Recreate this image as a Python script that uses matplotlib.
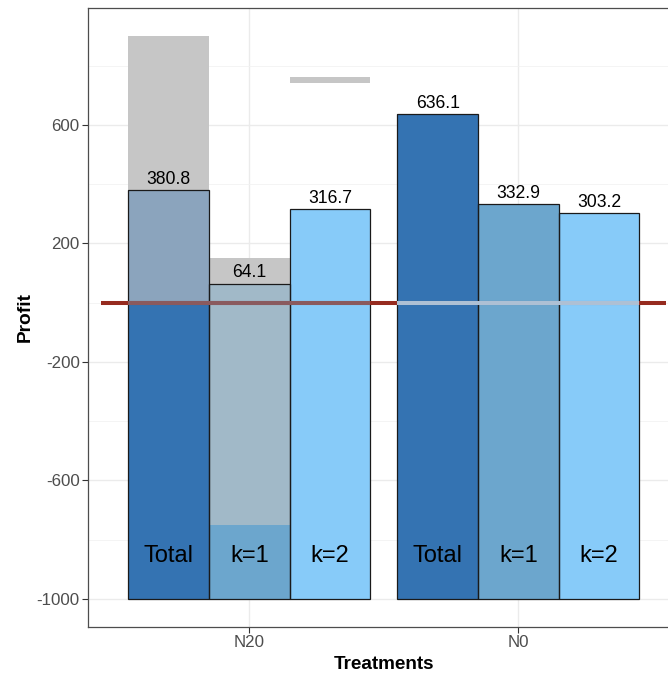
"""Profit by treatment: dodged bars with grey overlays and a zero line."""

import matplotlib

matplotlib.use("Agg")
import matplotlib.pyplot as plt
import numpy as np
from matplotlib.patches import Rectangle

plt.rcParams["font.family"] = ["Liberation Sans", "DejaVu Sans"]

# --- data ------------------------------------------------------------------
treatments = ["N20", "N0"]
components = ["Total", "k=1", "k=2"]
profit_n20 = [380.8, 64.1, 316.7]
profit_n0 = [636.1, 332.9, 303.2]
bar_floor = -1000

# grey overlay boxes: treatment index, component index, low, high
overlay_treat = [0, 0, 0]
overlay_comp = [0, 1, 2]
overlay_low = [0, -750, 741]
overlay_high = [900, 150, 761]

y_ticks = [-1000, -600, -200, 200, 600]
y_minor = [-800, -400, 0, 400, 800]
label_y = -855
zero_span = (0.45, 2.55)

# --- styling ---------------------------------------------------------------
fills = ["#3473B2", "#6CA6CD", "#87CBF9"]
grey = "#C6C6C6"
zero_red = "#962B1F"
bar_width = 0.3

fig = plt.figure(figsize=(6.68, 6.75), dpi=100)
ax = fig.add_axes([88 / 668, 48 / 675, 591.7 / 668, 619 / 675])

values = np.array([profit_n20, profit_n0])
centers = np.arange(1, len(treatments) + 1)
offsets = (np.arange(len(components)) - 1) * bar_width

for t, center in enumerate(centers):
    for c, off in enumerate(offsets):
        x = center + off
        v = values[t, c]
        ax.bar(x, v - bar_floor, bottom=bar_floor, width=bar_width,
               color=fills[c], edgecolor="none", zorder=2)
        ax.bar(x, v - bar_floor, bottom=bar_floor, width=bar_width,
               facecolor="none", edgecolor="#1A1A1A", linewidth=0.9, zorder=4)
        ax.text(x, v + 8, f"{v:.1f}", ha="center", va="bottom",
                fontsize=12.7, color="black", zorder=6)
        ax.text(x, label_y, components[c], ha="center", va="center",
                fontsize=17, color="black", zorder=6)

for t, c, lo, hi in zip(overlay_treat, overlay_comp, overlay_low, overlay_high):
    x0 = centers[t] + offsets[c] - bar_width / 2
    ax.add_patch(Rectangle((x0, lo), bar_width, hi - lo, facecolor=grey,
                           edgecolor="none", zorder=1.5))
    ax.add_patch(Rectangle((x0, lo), bar_width, hi - lo, facecolor=grey,
                           edgecolor="none", alpha=0.6, zorder=3.5))

# zero line, muted where it crosses each group of bars
ax.plot(zero_span, [0, 0], color=zero_red, linewidth=2.9,
        solid_capstyle="butt", zorder=5)
group_half = bar_width * len(components) / 2
band_colors = ["#8A5A5E", "#AEC0D4"]
for center, band in zip(centers, band_colors):
    ax.plot([center - group_half, center + group_half], [0, 0], color=band,
            linewidth=2.9, solid_capstyle="butt", zorder=5.5)

ax.set_xlim(0.4, 2.6)
ax.set_ylim(-1095, 995)
ax.set_xticks(centers)
ax.set_xticklabels(treatments)
ax.set_yticks(y_ticks)
ax.set_yticks(y_minor, minor=True)
ax.set_yticklabels([str(v) for v in y_ticks])

ax.grid(True, which="major", color="#EBEBEB", linewidth=1.0, zorder=0)
ax.grid(True, which="minor", axis="y", color="#F2F2F2", linewidth=0.6, zorder=0)
ax.set_axisbelow(True)
ax.tick_params(axis="both", which="major", labelsize=12.2, colors="#333333",
               labelcolor="#4D4D4D", length=4, width=0.8, pad=2)
ax.tick_params(axis="y", which="minor", length=0)
for spine in ax.spines.values():
    spine.set_color("#4D4D4D")
    spine.set_linewidth(0.9)
ax.spines["right"].set_visible(False)

ax.set_xlabel("Treatments", fontsize=13.6, fontweight="bold", labelpad=4)
ax.set_ylabel("Profit", fontsize=13.8, fontweight="bold", labelpad=2)

fig.savefig("out.png", dpi=100)
